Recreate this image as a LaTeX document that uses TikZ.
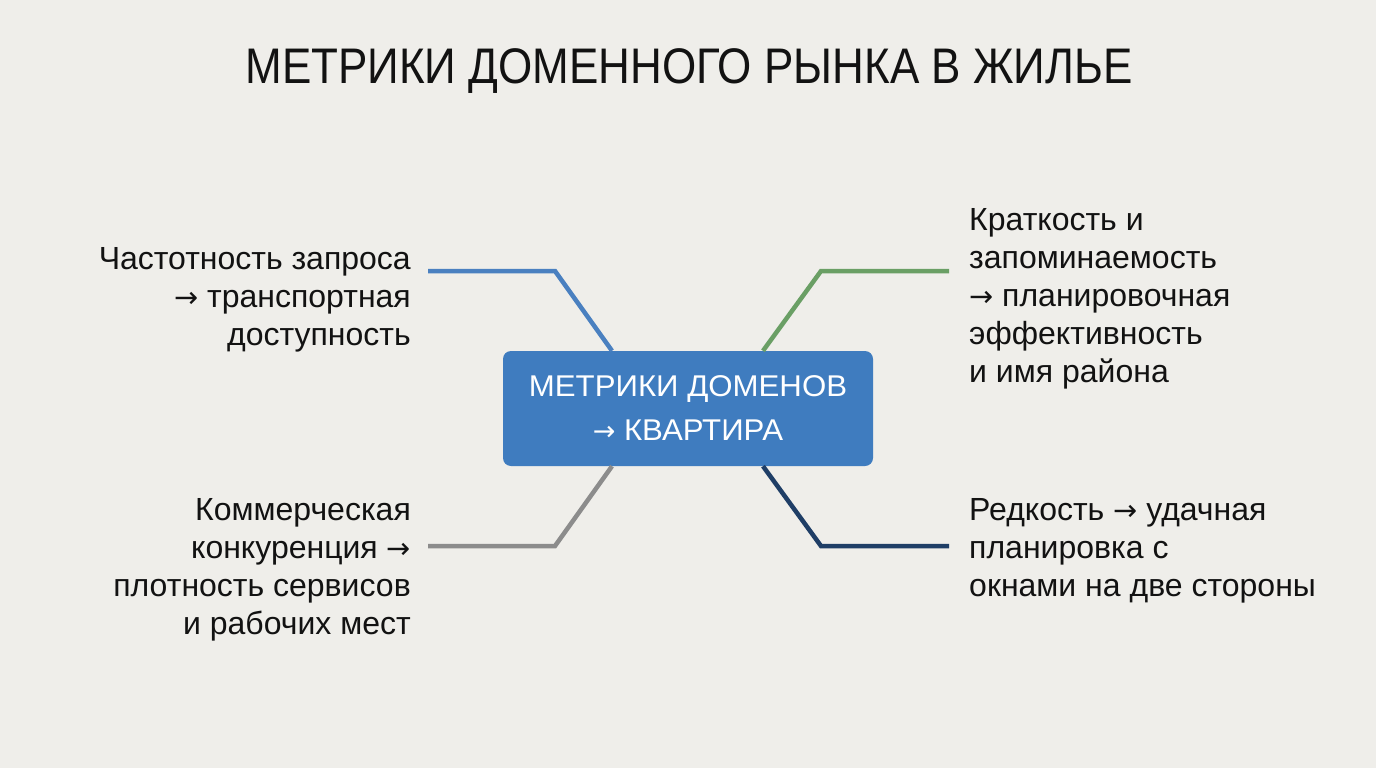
\documentclass[tikz,border=0pt]{standalone}
\usepackage{fontspec}
\setmainfont{Liberation Sans}
\newfontfamily\titlefont{Liberation Sans}[FakeStretch=0.88]
\newfontfamily\boxfont{Liberation Sans}[FakeStretch=1.04]
\newfontfamily\arrfont{DejaVu Sans}[Scale=0.9]
\newcommand\arr{{\arrfont →}}
\usetikzlibrary{calc}
\definecolor{bg}{HTML}{EFEEEA}
\definecolor{ink}{HTML}{121212}
\definecolor{boxblue}{HTML}{3F7CBF}
\definecolor{lblue}{HTML}{4A80C0}
\definecolor{lgreen}{HTML}{6A9F65}
\definecolor{lgray}{HTML}{8C8C8C}
\definecolor{lnavy}{HTML}{1F3E66}
\tikzset{
  lbl/.style={font=\fontsize{32}{38}\selectfont, text=ink, inner sep=0pt},
  centerbox/.style={fill=boxblue, rounded corners=8pt, minimum width=370pt, minimum height=115pt,
    text=white, font=\boxfont\fontsize{30}{44}\selectfont, align=center, inner sep=0pt},
  conn/.style={line width=4.5pt, line join=miter}
}
\begin{document}
\begin{tikzpicture}[x=1pt,y=-1pt]
\fill[bg] (0,0) rectangle (1376,768);
\useasboundingbox (0,0) rectangle (1376,768);

\node[font=\titlefont\fontsize{50}{60}\selectfont, text=ink, inner sep=0pt, anchor=base] (title) at (689,84) {МЕТРИКИ ДОМЕННОГО РЫНКА В ЖИЛЬЕ};

\node[centerbox] (c) at (688,408.5) {МЕТРИКИ ДОМЕНОВ\\\arr{} КВАРТИРА};

\node[lbl, align=right, anchor=base east] (lt) at (411,345) {Частотность запроса\\\arr{} транспортная\\доступность};
\node[lbl, align=left, anchor=base west] (rt) at (969,382) {Краткость и\\запоминаемость\\\arr{} планировочная\\эффективность\\и имя района};
\node[lbl, align=right, anchor=base east] (lb) at (411,634) {Коммерческая\\конкуренция \arr\\плотность сервисов\\и рабочих мест};
\node[lbl, align=left, anchor=base west] (rb) at (969,596) {Редкость \arr{} удачная\\планировка с\\окнами на две стороны};

\coordinate (ltend) at (428,271);
\coordinate (ltel) at (555,271);
\coordinate (rtend) at (949,271);
\coordinate (rtel) at (821,271);
\coordinate (lbend) at (428,546);
\coordinate (lbel) at (555,546);
\coordinate (rbend) at (949,546);
\coordinate (rbel) at (821,546);

\draw[conn, lblue] (ltend) -- (ltel) -- ([xshift=-76pt]c.north);
\draw[conn, lgreen] ([xshift=75pt]c.north) -- (rtel) -- (rtend);
\draw[conn, lgray] ([xshift=-76pt]c.south) -- (lbel) -- (lbend);
\draw[conn, lnavy] ([xshift=75pt]c.south) -- (rbel) -- (rbend);
\end{tikzpicture}
\end{document}
